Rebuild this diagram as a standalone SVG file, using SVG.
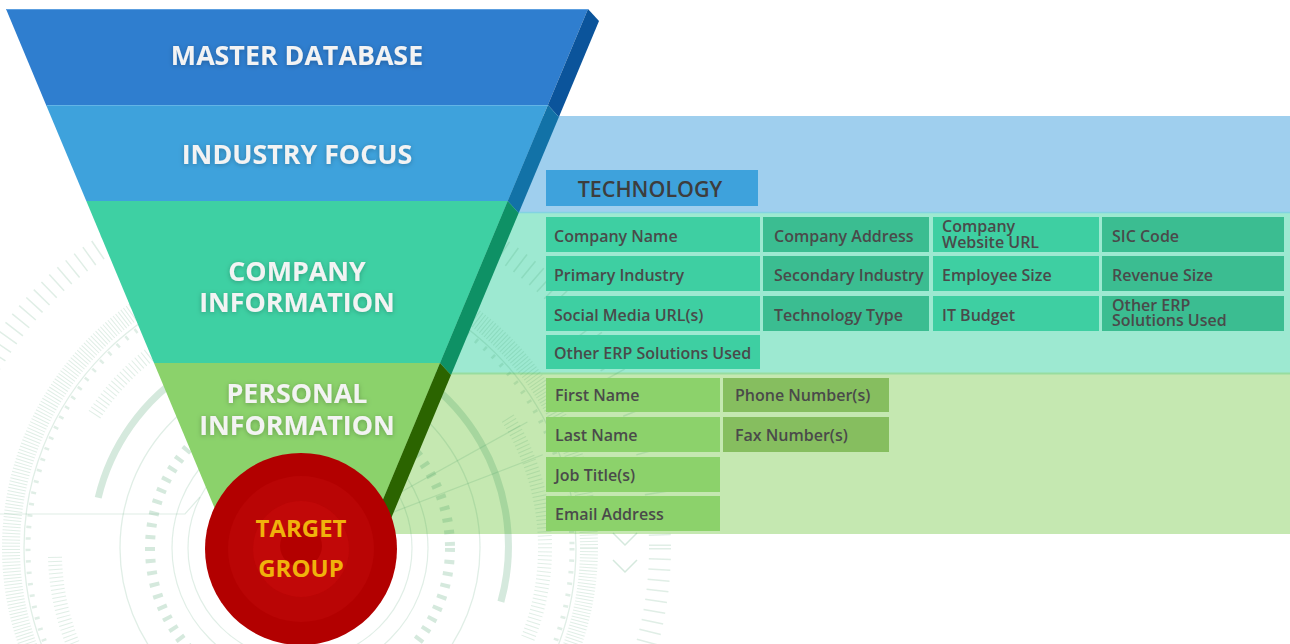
<svg xmlns="http://www.w3.org/2000/svg" width="1290" height="644" viewBox="0 0 1290 644">
<defs>
<style>
.dec{fill:none;stroke:#2f8f55;stroke-opacity:0.2}
.lt{stroke-opacity:0.15}
.ft{font-family:"Open Sans","Noto Sans","Liberation Sans",sans-serif;font-weight:700;font-size:26.8px;fill:#f3f3f3;text-anchor:middle}
.ct{font-family:"Open Sans","Noto Sans","Liberation Sans",sans-serif;font-weight:600;font-size:16px;fill:#4a4a4a}
.ca{fill:#3ecfa2}
.cb{fill:#3bbd91}
.pa{fill:#8cd26b}
.pb{fill:#86be5f}
.tg{font-family:"Open Sans","Noto Sans","Liberation Sans",sans-serif;font-weight:700;font-size:24px;fill:#f0b20c;text-anchor:middle}
</style>
<filter id="ts" x="-10%" y="-40%" width="120%" height="180%">
<feDropShadow dx="0" dy="1" stdDeviation="2.5" flood-color="#000" flood-opacity="0.25"/>
</filter>
</defs>
<rect width="1290" height="644" fill="#ffffff"/>

<g id="bands">
<rect x="300" y="116" width="990" height="96" fill="#9fcfee"/>
<rect x="300" y="212" width="990" height="162" fill="#9de9d1"/>
<rect x="300" y="374" width="990" height="160" fill="#c5e8b1"/>
<line x1="300" y1="212.5" x2="1290" y2="212.5" stroke="#82d3e2" stroke-width="1.5"/>
<line x1="300" y1="373.5" x2="1290" y2="373.5" stroke="#97dd9f" stroke-width="2"/>
</g>

<g id="decoration">
<path class="dec" stroke-width="7" d="M98.2,497.7 A208,208 0 1 1 500.9,601.8"/>
<circle class="dec lt" cx="300" cy="548" r="180" stroke-width="1.3"/>
<circle class="dec lt" cx="300" cy="548" r="128" stroke-width="1.2"/>
<circle class="dec lt" cx="300" cy="548" r="112" stroke-width="1.2"/>
<circle class="dec" cx="300" cy="548" r="150" stroke-width="10" stroke-dasharray="4 8"/>
<circle class="dec lt" cx="300" cy="548" r="289" stroke-width="18" stroke-dasharray="1 2.2"/>
<circle class="dec lt" cx="300" cy="548" r="276" stroke-width="1.3"/>
<circle class="dec lt" cx="300" cy="548" r="272" stroke-width="5" stroke-dasharray="2.5 9"/>
<circle class="dec lt" cx="300" cy="548" r="360" stroke-width="22" stroke-dasharray="1.5 9"/>
<path class="dec lt" stroke-width="14" stroke-dasharray="1 3" d="M72.8,643.7 A245,245 0 0 1 55.0,556.6"/>
<path class="dec lt" stroke-width="14" stroke-dasharray="1 3" d="M94.5,414.6 A245,245 0 0 1 149.2,354.9"/>
<path class="dec lt" stroke-width="14" stroke-dasharray="1 3" d="M507.8,418.2 A245,245 0 0 1 527.2,639.8"/>
<line class="dec lt" x1="383.1" y1="501.9" x2="527.4" y2="421.9" stroke-width="1.2"/>
<line class="dec lt" x1="388.7" y1="513.9" x2="542.7" y2="454.8" stroke-width="1.2"/>
<polyline class="dec lt" points="0,514 185,514 200,497" stroke-width="1.2"/>
<polyline class="dec" points="613,533 625,545 637,533" stroke-width="1.5"/>
<polyline class="dec" points="613,560 625,572 637,560" stroke-width="1.5"/>
</g>

<g id="connectors"></g>

<g id="master-database">
<polygon points="6,9 588,9 547.9,105 46.1,105" fill="#2f7ecf"/>
<polygon points="588,9 599,21 558.9,117 547.9,105" fill="#0b549b"/>
<line x1="6" y1="9.5" x2="588" y2="9.5" stroke="#5c9fe0" stroke-width="1"/>
<text class="ft" x="297" y="65" filter="url(#ts)">MASTER DATABASE</text>
</g>
<g id="industry-focus">
<polygon points="46.1,105 547.9,105 507.7,201 86.3,201" fill="#3ea2dc"/>
<polygon points="547.9,105 558.9,117 518.7,213 507.7,201" fill="#1272a7"/>
<line x1="46.1" y1="105.5" x2="547.9" y2="105.5" stroke="#63b4e6" stroke-width="1"/>
<text class="ft" x="297" y="164" filter="url(#ts)">INDUSTRY FOCUS</text>
</g>
<g id="company-information">
<polygon points="86.3,201 507.7,201 440,363 154,363" fill="#3ed0a3"/>
<polygon points="507.7,201 518.7,213 451,375 440,363" fill="#0e9165"/>
<text class="ft" filter="url(#ts)"><tspan x="297" y="281">COMPANY</tspan><tspan x="297" y="312">INFORMATION</tspan></text>
</g>
<g id="personal-information">
<polygon points="154,363 440,363 357.7,560 236.3,560" fill="#8bd26b"/>
<polygon points="440,363 451,375 368.7,572 357.7,560" fill="#2b6400"/>
<text class="ft" filter="url(#ts)"><tspan x="297" y="403">PERSONAL</tspan><tspan x="297" y="435">INFORMATION</tspan></text>
</g>

<g id="technology">
<rect x="546" y="170" width="212" height="36" fill="#3ea2dc"/>
<text x="650" y="196.5" text-anchor="middle" font-family="'Open Sans','Noto Sans','Liberation Sans',sans-serif" font-weight="600" font-size="21.5" fill="#3d3d3d">TECHNOLOGY</text>
</g>

<g id="company-fields">
<g id="company-name"><rect class="ca" x="546" y="217" width="214" height="35"/><text class="ct" x="554" y="242">Company Name</text></g>
<g id="company-address"><rect class="cb" x="763" y="217" width="166" height="35"/><text class="ct" x="774" y="242">Company Address</text></g>
<g id="company-website"><rect class="ca" x="933" y="217" width="166" height="35"/><text class="ct"><tspan x="942" y="231.5">Company</tspan><tspan x="942" y="247.5">Website URL</tspan></text></g>
<g id="sic-code"><rect class="cb" x="1102" y="217" width="182" height="35"/><text class="ct" x="1112" y="242">SIC Code</text></g>
<g id="primary-industry"><rect class="ca" x="546" y="256" width="214" height="35"/><text class="ct" x="554" y="281">Primary Industry</text></g>
<g id="secondary-industry"><rect class="cb" x="763" y="256" width="166" height="35"/><text class="ct" x="774" y="281">Secondary Industry</text></g>
<g id="employee-size"><rect class="ca" x="933" y="256" width="166" height="35"/><text class="ct" x="942" y="281">Employee Size</text></g>
<g id="revenue-size"><rect class="cb" x="1102" y="256" width="182" height="35"/><text class="ct" x="1112" y="281">Revenue Size</text></g>
<g id="social-media"><rect class="ca" x="546" y="296" width="214" height="35"/><text class="ct" x="554" y="321">Social Media URL(s)</text></g>
<g id="technology-type"><rect class="cb" x="763" y="296" width="166" height="35"/><text class="ct" x="774" y="321">Technology Type</text></g>
<g id="it-budget"><rect class="ca" x="933" y="296" width="166" height="35"/><text class="ct" x="942" y="321">IT Budget</text></g>
<g id="other-erp-2"><rect class="cb" x="1102" y="296" width="182" height="35"/><text class="ct"><tspan x="1112" y="310.5">Other ERP</tspan><tspan x="1112" y="325.5">Solutions Used</tspan></text></g>
<g id="other-erp-1"><rect class="ca" x="546" y="335" width="214" height="34"/><text class="ct" x="554" y="359">Other ERP Solutions Used</text></g>
</g>

<g id="personal-fields">
<g id="first-name"><rect class="pa" x="546" y="378" width="174" height="34"/><text class="ct" x="555" y="401">First Name</text></g>
<g id="phone-numbers"><rect class="pb" x="723" y="378" width="166" height="34"/><text class="ct" x="735" y="401">Phone Number(s)</text></g>
<g id="last-name"><rect class="pa" x="546" y="417" width="174" height="35"/><text class="ct" x="555" y="440.5">Last Name</text></g>
<g id="fax-numbers"><rect class="pb" x="723" y="417" width="166" height="35"/><text class="ct" x="735" y="440.5">Fax Number(s)</text></g>
<g id="job-titles"><rect class="pa" x="546" y="457" width="174" height="35"/><text class="ct" x="555" y="480.5">Job Title(s)</text></g>
<g id="email-address"><rect class="pa" x="546" y="496" width="174" height="35"/><text class="ct" x="555" y="519.5">Email Address</text></g>
</g>

<g id="target-group">
<circle cx="301" cy="549" r="96" fill="#b20000"/>
<circle cx="301" cy="549" r="73" fill="#b90505"/>
<circle cx="301" cy="549" r="48" fill="#c10808"/>
<circle cx="301" cy="546" r="21" fill="#b30000"/>
<text class="tg" x="301" y="537">TARGET</text>
<text class="tg" x="301" y="577">GROUP</text>
</g>
</svg>
